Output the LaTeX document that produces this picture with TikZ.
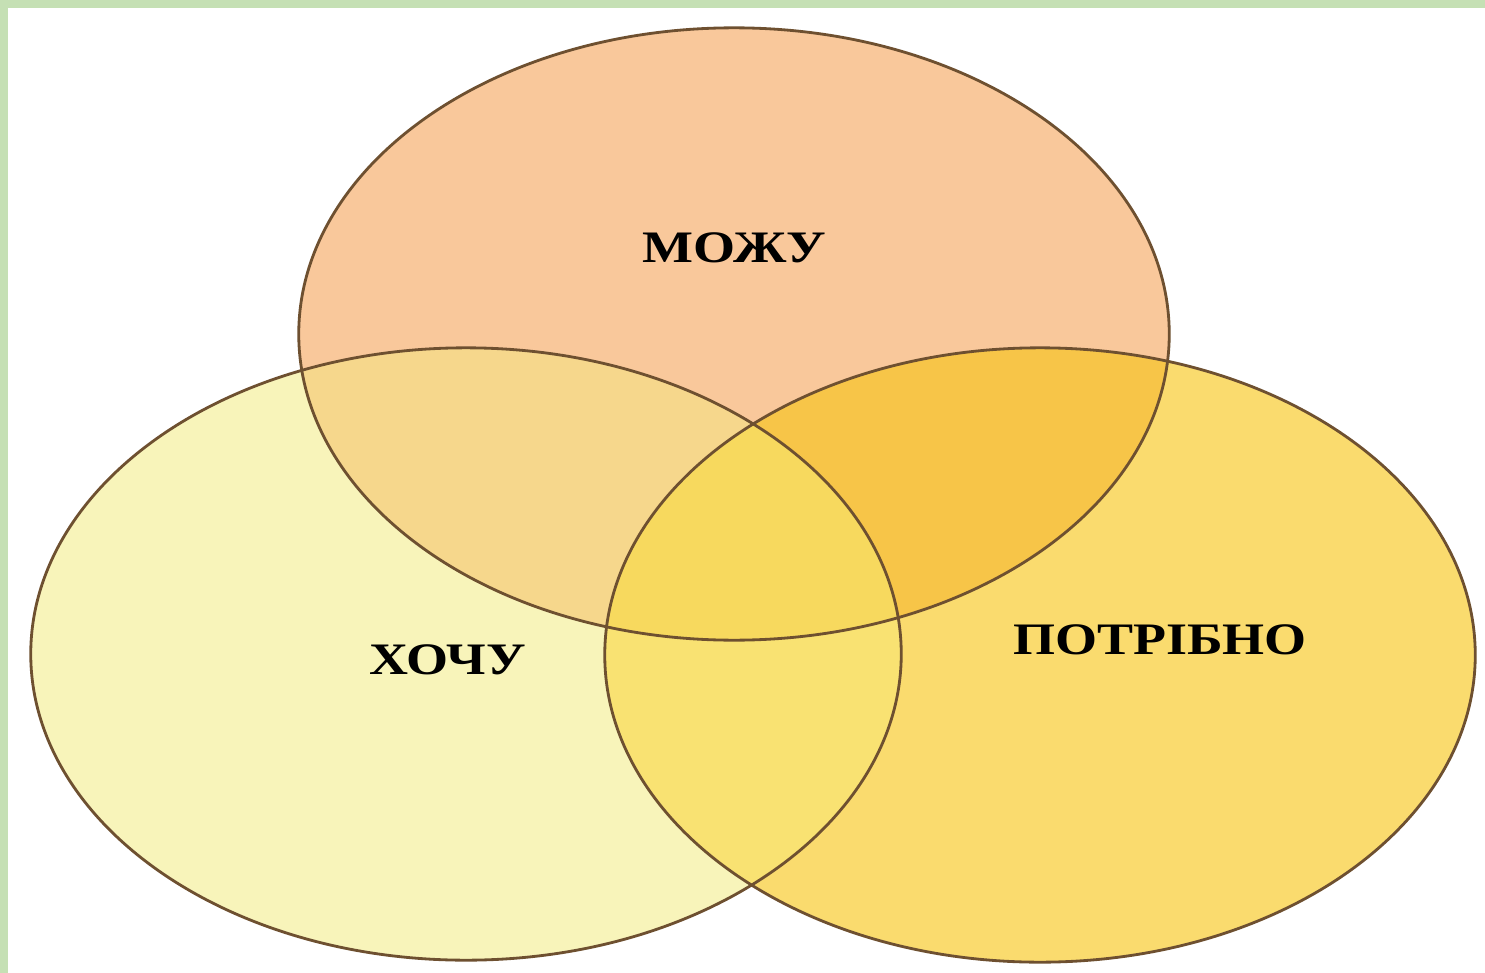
\documentclass[tikz,border=0pt]{standalone}
\usepackage{fontspec}
\setmainfont{Liberation Serif}
\definecolor{frame}{HTML}{C5E0B4}
\definecolor{cTop}{HTML}{F9C89B}
\definecolor{cLeft}{HTML}{F8F4BA}
\definecolor{cRight}{HTML}{FADB6E}
\definecolor{cTL}{HTML}{F6D78C}
\definecolor{cTR}{HTML}{F7C548}
\definecolor{cLR}{HTML}{F9E272}
\definecolor{cAll}{HTML}{F7D95E}
\definecolor{edge}{HTML}{6E5030}
\tikzset{
  ring/.style={draw=edge, line width=0.8pt},
  label/.style={font=\fontsize{12.8}{14}\selectfont\bfseries, text=black, xscale=1.2, inner sep=0pt}
}
\begin{document}
\begin{tikzpicture}[x=0.01cm,y=-0.01cm]
\useasboundingbox (0,0) rectangle (1485,973);
\fill[white] (0,0) rectangle (1485,973);
\fill[frame] (0,0) rectangle (1485,8);
\fill[frame] (0,0) rectangle (8,973);
\def\Etop{(734,334) ellipse [x radius=4.35cm, y radius=3.06cm]}
\def\Eleft{(466,654) ellipse [x radius=4.35cm, y radius=3.06cm]}
\def\Eright{(1040,655) ellipse [x radius=4.35cm, y radius=3.07cm]}
\fill[cLeft] \Eleft;
\fill[cRight] \Eright;
\fill[cTop] \Etop;
\begin{scope}
  \clip \Etop;
  \fill[cTL] \Eleft;
  \fill[cTR] \Eright;
\end{scope}
\begin{scope}
  \clip \Eleft;
  \fill[cLR] \Eright;
\end{scope}
\begin{scope}
  \clip \Etop;
  \clip \Eleft;
  \fill[cAll] \Eright;
\end{scope}
\draw[ring] \Etop;
\draw[ring] \Eleft;
\draw[ring] \Eright;
\node[label] (mozhu) at (734,248) {МОЖУ};
\node[label] (khochu) at (448,660) {ХОЧУ};
\node[label] (potribno) at (1160,640) {ПОТРІБНО};
\end{tikzpicture}
\end{document}
